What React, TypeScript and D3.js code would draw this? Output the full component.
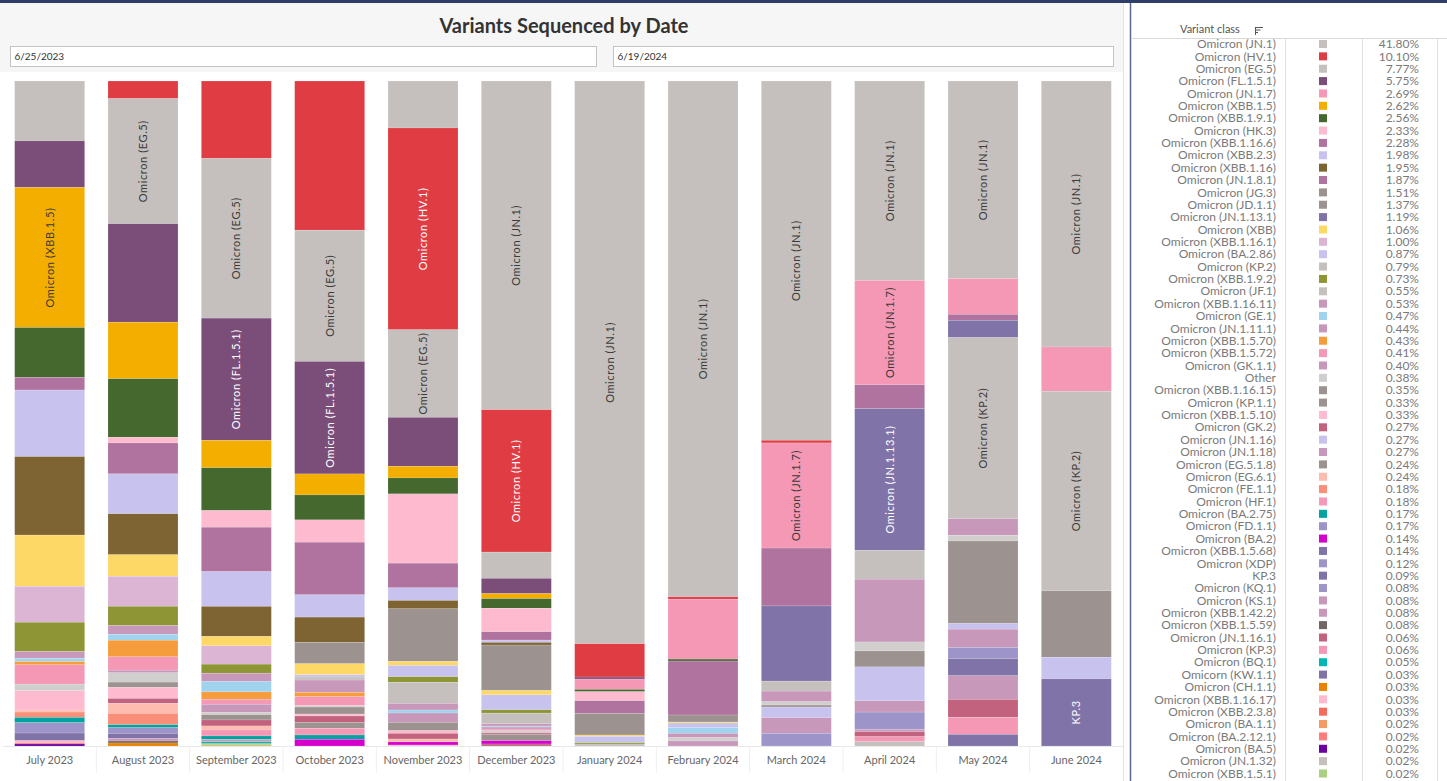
import React, { useEffect, useRef } from 'react';
import * as d3 from 'd3';

const months = [
  'July 2023', 'August 2023', 'September 2023', 'October 2023', 'November 2023', 'December 2023',
  'January 2024', 'February 2024', 'March 2024', 'April 2024', 'May 2024', 'June 2024',
];

// legend order = stacking order (top of bar first)
const variantCodes = [
  'JN.1', 'HV.1', 'EG.5', 'FL.1.5.1', 'JN.1.7', 'XBB.1.5', 'XBB.1.9.1', 'HK.3', 'XBB.1.16.6', 'XBB.2.3',
  'XBB.1.16', 'JN.1.8.1', 'JG.3', 'JD.1.1', 'JN.1.13.1', 'XBB', 'XBB.1.16.1', 'BA.2.86', 'KP.2', 'XBB.1.9.2',
  'JF.1', 'XBB.1.16.11', 'GE.1', 'JN.1.11.1', 'XBB.1.5.70', 'XBB.1.5.72', 'GK.1.1', 'Other', 'XBB.1.16.15', 'KP.1.1',
  'XBB.1.5.10', 'GK.2', 'JN.1.16', 'JN.1.18', 'EG.5.1.8', 'EG.6.1', 'FE.1.1', 'HF.1', 'BA.2.75', 'FD.1.1',
  'BA.2', 'XBB.1.5.68', 'XDP', 'KP.3', 'KQ.1', 'KS.1', 'XBB.1.42.2', 'XBB.1.5.59', 'JN.1.16.1', 'oKP.3',
  'BQ.1', 'KW.1.1', 'CH.1.1', 'XBB.1.16.17', 'XBB.2.3.8', 'BA.1.1', 'BA.2.12.1', 'BA.5', 'JN.1.32', 'XBB.1.5.1',
];

const legendLabels = [
  'Omicron (JN.1)', 'Omicron (HV.1)', 'Omicron (EG.5)', 'Omicron (FL.1.5.1)', 'Omicron (JN.1.7)',
  'Omicron (XBB.1.5)', 'Omicron (XBB.1.9.1)', 'Omicron (HK.3)', 'Omicron (XBB.1.16.6)', 'Omicron (XBB.2.3)',
  'Omicron (XBB.1.16)', 'Omicron (JN.1.8.1)', 'Omicron (JG.3)', 'Omicron (JD.1.1)', 'Omicron (JN.1.13.1)',
  'Omicron (XBB)', 'Omicron (XBB.1.16.1)', 'Omicron (BA.2.86)', 'Omicron (KP.2)', 'Omicron (XBB.1.9.2)',
  'Omicron (JF.1)', 'Omicron (XBB.1.16.11)', 'Omicron (GE.1)', 'Omicron (JN.1.11.1)', 'Omicron (XBB.1.5.70)',
  'Omicron (XBB.1.5.72)', 'Omicron (GK.1.1)', 'Other', 'Omicron (XBB.1.16.15)', 'Omicron (KP.1.1)',
  'Omicron (XBB.1.5.10)', 'Omicron (GK.2)', 'Omicron (JN.1.16)', 'Omicron (JN.1.18)', 'Omicron (EG.5.1.8)',
  'Omicron (EG.6.1)', 'Omicron (FE.1.1)', 'Omicron (HF.1)', 'Omicron (BA.2.75)', 'Omicron (FD.1.1)',
  'Omicron (BA.2)', 'Omicron (XBB.1.5.68)', 'Omicron (XDP)', 'KP.3', 'Omicron (KQ.1)',
  'Omicron (KS.1)', 'Omicron (XBB.1.42.2)', 'Omicron (XBB.1.5.59)', 'Omicron (JN.1.16.1)', 'Omicron (KP.3)',
  'Omicron (BQ.1)', 'Omicorn (KW.1.1)', 'Omicron (CH.1.1)', 'Omicron (XBB.1.16.17)', 'Omicron (XBB.2.3.8)',
  'Omicron (BA.1.1)', 'Omicron (BA.2.12.1)', 'Omicron (BA.5)', 'Omicron (JN.1.32)', 'Omicron (XBB.1.5.1)',
];

const legendShares = [
  41.8, 10.1, 7.77, 5.75, 2.69, 2.62, 2.56, 2.33, 2.28, 1.98,
  1.95, 1.87, 1.51, 1.37, 1.19, 1.06, 1.0, 0.87, 0.79, 0.73,
  0.55, 0.53, 0.47, 0.44, 0.43, 0.41, 0.4, 0.38, 0.35, 0.33,
  0.33, 0.27, 0.27, 0.27, 0.24, 0.24, 0.18, 0.18, 0.17, 0.17,
  0.14, 0.14, 0.12, 0.09, 0.08, 0.08, 0.08, 0.08, 0.06, 0.06,
  0.05, 0.03, 0.03, 0.03, 0.03, 0.02, 0.02, 0.02, 0.02, 0.02,
];

const variantColors = [
  '#c5c0bd', '#e03c44', '#c5c0bd', '#7b4d79', '#f498b5', '#f4ae00', '#44682d', '#febbd0', '#b0729e', '#c8c2ef',
  '#7d6432', '#b0729e', '#9c928f', '#9c928f', '#8073a8', '#fed866', '#dcb5d5', '#c8c2ef', '#c5c0bd', '#8d9535',
  '#c5c0bd', '#c898bb', '#a0d3ee', '#c898bb', '#f59d3c', '#f498b5', '#c898bb', '#d1cfce', '#9c928f', '#9c928f',
  '#febbd0', '#c2627f', '#c8c2ef', '#c898bb', '#9c928f', '#febbb0', '#f98e79', '#f498b5', '#00a39f', '#9d95c9',
  '#d400cc', '#8073a8', '#9d95c9', '#8073a8', '#9d95c9', '#c898bb', '#c898bb', '#716664', '#c2627f', '#f498b5',
  '#00b6b6', '#8073a8', '#ea8400', '#febbd0', '#f46c5b', '#f49a62', '#fd7c7c', '#6a00a0', '#c5c0bd', '#a8d080',
];

// share of sequences per month (%)
const jul2023: [string, number][] = [
  ['EG.5', 9.0], ['FL.1.5.1', 7.0], ['XBB.1.5', 21.05], ['XBB.1.9.1', 7.5], ['XBB.1.16.6', 1.9],
  ['XBB.2.3', 10.0], ['XBB.1.16', 11.8], ['XBB', 7.7], ['XBB.1.16.1', 5.4], ['XBB.1.9.2', 4.4],
  ['XBB.1.16.11', 1.0], ['GE.1', 0.5], ['XBB.1.5.70', 0.5], ['XBB.1.5.72', 2.9], ['Other', 1.0],
  ['XBB.1.5.10', 2.9], ['EG.6.1', 0.3], ['FE.1.1', 0.8], ['BA.2.75', 0.8], ['FD.1.1', 1.55],
  ['XBB.1.5.68', 1.15], ['XBB.1.16.17', 0.3], ['BA.2.12.1', 0.2], ['BA.5', 0.3],
];
const aug2023: [string, number][] = [
  ['HV.1', 2.65], ['EG.5', 18.8], ['FL.1.5.1', 14.8], ['XBB.1.5', 8.5], ['XBB.1.9.1', 8.8], ['HK.3', 0.85],
  ['XBB.1.16.6', 4.65], ['XBB.2.3', 6.0], ['XBB.1.16', 6.15], ['XBB', 3.25], ['XBB.1.16.1', 4.5],
  ['XBB.1.9.2', 2.9], ['XBB.1.16.11', 1.3], ['GE.1', 0.9], ['XBB.1.5.70', 2.5], ['XBB.1.5.72', 2.0],
  ['GK.1.1', 0.4], ['Other', 1.4], ['XBB.1.16.15', 0.8], ['XBB.1.5.10', 1.65], ['GK.2', 0.75],
  ['EG.6.1', 1.5], ['FE.1.1', 1.7], ['BA.2.75', 0.45], ['FD.1.1', 0.85], ['XBB.1.5.68', 0.75],
  ['XBB.1.42.2', 0.4], ['XBB.1.5.59', 0.3], ['CH.1.1', 0.45],
];
const sep2023: [string, number][] = [
  ['HV.1', 11.6], ['EG.5', 23.9], ['FL.1.5.1', 18.3], ['XBB.1.5', 4.1], ['XBB.1.9.1', 6.4], ['HK.3', 2.5],
  ['XBB.1.16.6', 6.65], ['XBB.2.3', 5.2], ['XBB.1.16', 4.5], ['XBB', 1.4], ['XBB.1.16.1', 2.75],
  ['XBB.1.9.2', 1.35], ['XBB.1.16.11', 1.25], ['GE.1', 1.55], ['XBB.1.5.70', 1.1], ['XBB.1.5.72', 0.75],
  ['GK.1.1', 1.25], ['Other', 0.3], ['XBB.1.16.15', 0.8], ['GK.2', 0.9], ['EG.6.1', 0.6], ['HF.1', 0.9],
  ['BA.2.75', 0.5], ['XBB.1.42.2', 0.35], ['BQ.1', 0.3], ['CH.1.1', 0.15], ['XBB.1.5.1', 0.2],
];
const oct2023: [string, number][] = [
  ['HV.1', 22.4], ['EG.5', 19.7], ['FL.1.5.1', 16.9], ['XBB.1.5', 3.15], ['XBB.1.9.1', 3.75], ['HK.3', 3.35],
  ['XBB.1.16.6', 7.9], ['XBB.2.3', 3.35], ['XBB.1.16', 3.8], ['JG.3', 3.2], ['XBB', 1.65], ['BA.2.86', 0.35],
  ['JF.1', 0.45], ['XBB.1.16.11', 1.85], ['XBB.1.5.70', 0.65], ['XBB.1.5.72', 1.35], ['Other', 0.2],
  ['XBB.1.16.15', 1.05], ['XBB.1.5.10', 0.3], ['GK.2', 0.95], ['EG.5.1.8', 0.9], ['HF.1', 1.0],
  ['BA.2.75', 0.65], ['BA.2', 1.0],
];
const nov2023: [string, number][] = [
  ['JN.1', 7.05], ['HV.1', 30.3], ['EG.5', 13.15], ['FL.1.5.1', 7.35], ['XBB.1.5', 1.75], ['XBB.1.9.1', 2.4],
  ['HK.3', 10.4], ['XBB.1.16.6', 3.7], ['XBB.2.3', 1.9], ['XBB.1.16', 1.25], ['JG.3', 7.9], ['XBB', 0.6],
  ['BA.2.86', 1.7], ['XBB.1.9.2', 0.85], ['JF.1', 3.15], ['XBB.1.16.11', 1.0], ['GE.1', 0.45],
  ['JN.1.11.1', 1.4], ['XBB.1.16.15', 1.25], ['XBB.1.5.10', 0.4], ['GK.2', 0.85], ['EG.6.1', 0.45],
  ['BA.2', 0.45], ['XBB.1.16.17', 0.15],
];
const dec2023: [string, number][] = [
  ['JN.1', 49.5], ['HV.1', 21.45], ['EG.5', 3.95], ['FL.1.5.1', 2.3], ['XBB.1.5', 0.75], ['XBB.1.9.1', 1.45],
  ['HK.3', 3.55], ['XBB.1.16.6', 1.25], ['XBB.2.3', 0.35], ['XBB.1.16', 0.4], ['JG.3', 6.85], ['XBB', 0.65],
  ['BA.2.86', 2.25], ['XBB.1.9.2', 0.5], ['JF.1', 1.6], ['XBB.1.16.11', 0.35], ['GE.1', 0.15],
  ['JN.1.11.1', 0.3], ['XBB.1.5.72', 0.25], ['Other', 0.35], ['GK.2', 0.25], ['EG.5.1.8', 0.9],
  ['BA.2', 0.5], ['JN.1.16.1', 0.3],
];
const jan2024: [string, number][] = [
  ['JN.1', 84.5], ['HV.1', 5.0], ['FL.1.5.1', 0.3], ['JN.1.7', 1.55], ['XBB.1.9.1', 0.35], ['HK.3', 1.35],
  ['JN.1.8.1', 1.9], ['JG.3', 3.25], ['XBB', 0.2], ['BA.2.86', 0.95], ['XBB.1.9.2', 0.2], ['JF.1', 0.3],
];
const feb2024: [string, number][] = [
  ['JN.1', 77.45], ['HV.1', 0.35], ['JN.1.7', 9.0], ['XBB.1.9.1', 0.3], ['JN.1.8.1', 8.1], ['JD.1.1', 1.05],
  ['XBB', 0.15], ['BA.2.86', 0.7], ['GE.1', 0.85], ['JN.1.11.1', 0.65], ['Other', 0.5], ['JN.1.18', 0.75],
];
const mar2024: [string, number][] = [
  ['JN.1', 54.0], ['HV.1', 0.4], ['JN.1.7', 15.8], ['JN.1.8.1', 8.7], ['JN.1.13.1', 11.3], ['KP.2', 1.5],
  ['JN.1.11.1', 1.6], ['Other', 0.5], ['KP.1.1', 0.3], ['JN.1.16', 1.6], ['JN.1.18', 2.35], ['KQ.1', 1.9],
];
const apr2024: [string, number][] = [
  ['JN.1', 30.0], ['JN.1.7', 15.7], ['JN.1.8.1', 3.6], ['JN.1.13.1', 21.3], ['KP.2', 4.35], ['JN.1.11.1', 9.45],
  ['Other', 1.35], ['KP.1.1', 2.4], ['JN.1.16', 5.1], ['JN.1.18', 1.7], ['XDP', 2.6], ['KS.1', 0.35],
  ['JN.1.16.1', 0.75], ['oKP.3', 0.75], ['JN.1.32', 0.65],
];
const may2024: [string, number][] = [
  ['JN.1', 29.7], ['JN.1.7', 5.35], ['JN.1.8.1', 0.9], ['JN.1.13.1', 2.6], ['KP.2', 27.2], ['JN.1.11.1', 2.5],
  ['Other', 0.85], ['KP.1.1', 12.4], ['JN.1.16', 0.85], ['JN.1.18', 2.75], ['XDP', 1.65], ['KP.3', 2.6],
  ['KS.1', 3.55], ['JN.1.16.1', 2.7], ['oKP.3', 2.55], ['KW.1.1', 1.75],
];
const jun2024: [string, number][] = [
  ['JN.1', 40.0], ['JN.1.7', 6.65], ['KP.2', 30.0], ['KP.1.1', 10.0], ['JN.1.16', 3.25], ['KP.3', 10.1],
];

const monthRows = [
  jul2023, aug2023, sep2023, oct2023, nov2023, dec2023,
  jan2024, feb2024, mar2024, apr2024, may2024, jun2024,
];

// segments that carry a mark label: [month, variant, text tone]
const segmentLabels: [string, string, 'dark' | 'light'][] = [
  ['July 2023', 'XBB.1.5', 'dark'],
  ['August 2023', 'EG.5', 'dark'],
  ['September 2023', 'EG.5', 'dark'],
  ['September 2023', 'FL.1.5.1', 'light'],
  ['October 2023', 'EG.5', 'dark'],
  ['October 2023', 'FL.1.5.1', 'light'],
  ['November 2023', 'HV.1', 'light'],
  ['November 2023', 'EG.5', 'dark'],
  ['December 2023', 'JN.1', 'dark'],
  ['December 2023', 'HV.1', 'light'],
  ['January 2024', 'JN.1', 'dark'],
  ['February 2024', 'JN.1', 'dark'],
  ['March 2024', 'JN.1', 'dark'],
  ['March 2024', 'JN.1.7', 'dark'],
  ['April 2024', 'JN.1', 'dark'],
  ['April 2024', 'JN.1.7', 'dark'],
  ['April 2024', 'JN.1.13.1', 'light'],
  ['May 2024', 'JN.1', 'dark'],
  ['May 2024', 'KP.2', 'dark'],
  ['June 2024', 'JN.1', 'dark'],
  ['June 2024', 'KP.2', 'dark'],
  ['June 2024', 'KP.3', 'light'],
];

const filterDates = ['6/25/2023', '6/19/2024'];

const W = 1447;
const H = 781;
const FONT = 'Lato, "Open Sans", sans-serif';

type Row = { month: string; [k: string]: number | string };

const App: React.FC = () => {
  const svgRef = useRef<SVGSVGElement>(null);

  useEffect(() => {
    const svg = d3.select(svgRef.current);
    svg.selectAll('*').remove();
    svg.attr('font-family', FONT);

    // frame
    svg.append('rect').attr('width', W).attr('height', H).attr('fill', '#fff');
    svg.append('rect').attr('x', 0).attr('y', 3).attr('width', 1123).attr('height', 69).attr('fill', '#f6f6f6');
    svg.append('rect').attr('width', W).attr('height', 3).attr('fill', '#2f3e68');
    svg.append('line').attr('x1', 1123.5).attr('x2', 1123.5).attr('y1', 3).attr('y2', H)
      .attr('stroke', '#e2e2e2');
    svg.append('line').attr('x1', 1130.5).attr('x2', 1130.5).attr('y1', 3).attr('y2', H)
      .attr('stroke', '#5a6790').attr('stroke-width', 1.5);

    svg.append('text')
      .attr('x', 564).attr('y', 33)
      .attr('text-anchor', 'middle')
      .attr('font-size', 20).attr('font-weight', 700).attr('fill', '#333')
      .text('Variants Sequenced by Date');

    // date filter boxes
    const boxes = [
      { x: 10.5, w: 586 },
      { x: 613.5, w: 500 },
    ];
    boxes.forEach((b, i) => {
      svg.append('rect').attr('x', b.x).attr('y', 46.5).attr('width', b.w).attr('height', 20)
        .attr('fill', '#fff').attr('stroke', '#c4c4c4');
      svg.append('text').attr('x', b.x + 4).attr('y', 60).attr('font-size', 10).attr('fill', '#333')
        .text(filterDates[i]);
    });

    // stacked bars
    const rows: Row[] = months.map((m, i) => {
      const r: Row = { month: m };
      variantCodes.forEach((c) => { r[c] = 0; });
      monthRows[i].forEach(([c, v]) => { r[c] = v; });
      return r;
    });

    const series = d3.stack<Row>()
      .keys(variantCodes)
      .value((d, k) => d[k] as number)
      .offset(d3.stackOffsetExpand)(rows);

    const x = d3.scaleBand<string>().domain(months).range([3, 1123]).paddingInner(0.25).paddingOuter(0.125);
    const y = d3.scaleLinear().domain([0, 1]).range([81, 746]);
    const color = d3.scaleOrdinal<string, string>(variantCodes, variantColors);

    const gBars = svg.append('g');
    series.forEach((s) => {
      gBars.append('g')
        .attr('fill', color(s.key))
        .selectAll('rect')
        .data(s.filter((d) => d[1] - d[0] > 0))
        .join('rect')
        .attr('x', (d) => x(d.data.month) as number)
        .attr('y', (d) => y(d[0]))
        .attr('width', x.bandwidth())
        .attr('height', (d) => y(d[1]) - y(d[0]))
        .attr('stroke', '#fff')
        .attr('stroke-opacity', 0.3)
        .attr('stroke-width', 0.5);
    });

    // mark labels
    const gLabels = svg.append('g').attr('font-size', 11).attr('letter-spacing', 0.6);
    segmentLabels.forEach(([m, code, tone]) => {
      const s = series.find((ss) => ss.key === code);
      const d = s?.[months.indexOf(m)];
      if (!d) return;
      const cx = (x(m) as number) + x.bandwidth() / 2;
      const cy = (y(d[0]) + y(d[1])) / 2;
      gLabels.append('text')
        .attr('transform', `translate(${cx},${cy}) rotate(-90)`)
        .attr('text-anchor', 'middle')
        .attr('dy', '0.35em')
        .attr('fill', tone === 'light' ? '#fff' : '#3a3a3a')
        .text(legendLabels[variantCodes.indexOf(code)]);
    });

    // x axis
    svg.append('line').attr('x1', 3).attr('x2', 1123).attr('y1', 746.5).attr('y2', 746.5).attr('stroke', '#e8e8e8');
    const step = x.step();
    months.forEach((m, i) => {
      if (i === 0) return;
      const bx = (x(m) as number) - step * x.paddingInner() / 2;
      svg.append('line').attr('x1', bx).attr('x2', bx).attr('y1', 747).attr('y2', 773).attr('stroke', '#efefef');
    });
    const axis = svg.append('g')
      .attr('transform', 'translate(0,746)')
      .call(d3.axisBottom(x).tickSize(0).tickPadding(10));
    axis.select('.domain').remove();
    axis.selectAll('text').attr('font-family', FONT).attr('font-size', 11).attr('fill', '#666');

    // legend table
    const lg = svg.append('g');
    lg.append('text').attr('x', 1180).attr('y', 33).attr('font-size', 11).attr('fill', '#555').text('Variant class');
    [0, 1, 2].forEach((k) => {
      lg.append('line')
        .attr('x1', 1255).attr('x2', 1263 - k * 2.5)
        .attr('y1', 27.5 + k * 2.5).attr('y2', 27.5 + k * 2.5)
        .attr('stroke', '#555').attr('stroke-width', 1);
    });
    lg.append('line').attr('x1', 1255.5).attr('x2', 1255.5).attr('y1', 27).attr('y2', 35)
      .attr('stroke', '#555');
    lg.append('line').attr('x1', 1132).attr('x2', W).attr('y1', 38.5).attr('y2', 38.5).attr('stroke', '#d9d9d9');
    [1285.5, 1362.5, 1437.5].forEach((gx) => {
      lg.append('line').attr('x1', gx).attr('x2', gx).attr('y1', 38).attr('y2', H).attr('stroke', '#e0e0e0');
    });

    const rowY = d3.scaleLinear().domain([0, variantCodes.length - 1]).range([44, 773.5]);
    const rowsG = lg.selectAll('g.row')
      .data(variantCodes)
      .join('g')
      .attr('class', 'row')
      .attr('transform', (_d, i) => `translate(0,${rowY(i)})`);
    rowsG.append('text')
      .attr('x', 1276).attr('dy', '0.35em').attr('text-anchor', 'end')
      .attr('font-size', 12).attr('fill', '#7a7a7a')
      .text((_d, i) => legendLabels[i]);
    rowsG.append('rect')
      .attr('x', 1319).attr('y', -4).attr('width', 8).attr('height', 8)
      .attr('fill', (d) => color(d));
    rowsG.append('text')
      .attr('x', 1419).attr('dy', '0.35em').attr('text-anchor', 'end')
      .attr('font-size', 12).attr('fill', '#7a7a7a')
      .text((_d, i) => `${legendShares[i].toFixed(2)}%`);
  }, []);

  return (
    <svg
      ref={svgRef}
      width={W}
      height={H}
      style={{ position: 'absolute', left: 0, top: 0, display: 'block' }}
    />
  );
};

export default App;
